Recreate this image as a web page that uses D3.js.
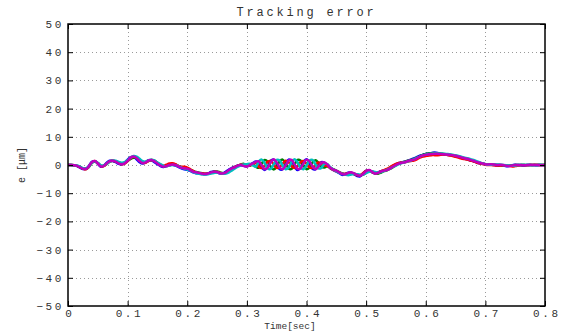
<!DOCTYPE html>
<html>
<head>
<meta charset="utf-8">
<script src="https://cdn.jsdelivr.net/npm/d3@7"></script>
<style>
  body { margin: 0; background: #fff; }
  svg { display: block; }
</style>
</head>
<body>
<div id="chart"></div>
<script>
// sample times [sec]
const time = [
  0,0.005,0.01,0.015,0.02,0.025,0.03,0.035,0.04,0.045,
  0.05,0.055,0.06,0.065,0.07,0.075,0.08,0.085,0.09,0.095,
  0.1,0.105,0.11,0.115,0.12,0.125,0.13,0.135,0.14,0.145,
  0.15,0.155,0.16,0.165,0.17,0.175,0.18,0.185,0.19,0.195,
  0.2,0.205,0.21,0.215,0.22,0.225,0.23,0.235,0.24,0.245,
  0.25,0.255,0.26,0.265,0.27,0.275,0.28,0.285,0.29,0.295,
  0.3,0.305,0.31,0.315,0.32,0.325,0.33,0.335,0.34,0.345,
  0.35,0.355,0.36,0.365,0.37,0.375,0.38,0.385,0.39,0.395,
  0.4,0.405,0.41,0.415,0.42,0.425,0.43,0.435,0.44,0.445,
  0.45,0.455,0.46,0.465,0.47,0.475,0.48,0.485,0.49,0.495,
  0.5,0.505,0.51,0.515,0.52,0.525,0.53,0.535,0.54,0.545,
  0.55,0.555,0.56,0.565,0.57,0.575,0.58,0.585,0.59,0.595,
  0.6,0.605,0.61,0.615,0.62,0.625,0.63,0.635,0.64,0.645,
  0.65,0.655,0.66,0.665,0.67,0.675,0.68,0.685,0.69,0.695,
  0.7,0.705,0.71,0.715,0.72,0.725,0.73,0.735,0.74,0.745,
  0.75,0.755,0.76,0.765,0.77,0.775,0.78,0.785,0.79,0.795,0.8
];

// tracking error [um], one run per colour
const errBlue = [
  0,0,-0.1,-0.4,-0.9,-1.4,-1.3,-0.3,1.1,1.3,
  0.4,-0.6,-0.2,0.8,1.5,1.4,1.0,0.4,0.2,0.8,
  1.9,2.8,2.9,2.0,1.0,0.5,0.9,1.7,1.7,1.0,
  0.3,-0.4,-0.7,-0.3,0.1,0.1,-0.2,-0.7,-1.2,-1.5,
  -1.7,-2.1,-2.6,-2.9,-3.0,-3.2,-3.3,-3.0,-2.5,-2.3,
  -2.6,-3.0,-2.9,-2.3,-1.6,-1.0,-0.6,-0.2,-0.1,-0.3,
  -0.4,0.1,0.7,1.2,0.8,-0.9,-1.8,-0.5,1.5,1.9,
  0.3,-1.5,-1.5,0.3,1.9,1.4,-0.5,-1.8,-0.9,1.1,
  2.0,0.7,-1.3,-1.5,-0.1,1.0,0.8,0.0,-1.2,-1.8,
  -2.3,-2.9,-3.5,-3.2,-2.7,-2.8,-3.3,-3.9,-4.0,-3.0,
  -2.0,-2.0,-2.6,-3.0,-2.6,-2.2,-1.9,-1.6,-1.0,-0.3,
  0.3,0.7,1.0,1.2,1.5,1.9,2.3,2.8,3.3,3.6,
  3.9,4.1,4.3,4.4,4.3,4.0,3.8,3.6,3.5,3.4,
  3.1,2.8,2.5,2.2,2.0,1.6,1.3,0.9,0.6,0.4,
  0.2,0.1,0.1,0.0,-0.2,-0.1,-0.2,-0.4,-0.3,-0.1,
  0.1,0.0,-0.1,-0.2,0.0,0.1,0.0,-0.1,0.0,0.0,0.0
];
const errGreen = [
  0,0,-0.1,-0.3,-0.7,-1.2,-1.4,-0.7,0.7,1.2,
  0.7,-0.2,-0.3,0.4,1.2,1.5,1.3,0.9,0.5,0.7,
  1.4,2.2,2.6,2.5,1.7,1.0,1.0,1.5,1.8,1.5,
  0.8,0.1,-0.4,-0.4,-0.1,0.2,0.1,-0.3,-0.8,-1.1,
  -1.4,-1.7,-2.1,-2.5,-2.7,-2.9,-3.1,-3.0,-2.7,-2.4,
  -2.3,-2.6,-2.9,-2.8,-2.2,-1.5,-0.9,-0.3,0.2,0.4,
  0.0,-0.3,0.1,-0.6,-1.0,0.5,1.8,1.2,-0.6,-1.6,
  -0.6,1.3,1.9,0.6,-1.2,-1.4,0.2,1.8,1.6,-0.2,
  -1.5,-0.9,0.9,1.7,0.8,-0.6,-0.9,-0.4,-1.0,-1.5,
  -2.0,-2.5,-3.0,-3.3,-3.1,-2.9,-3.1,-3.4,-3.6,-3.4,
  -2.7,-2.1,-2.3,-2.9,-3.1,-2.7,-2.2,-1.9,-1.4,-0.8,
  -0.1,0.5,0.9,1.2,1.5,1.8,2.1,2.6,3.1,3.6,
  3.9,4.1,4.2,4.2,4.1,4.0,3.9,3.8,3.7,3.5,
  3.3,3.0,2.7,2.4,2.1,1.8,1.5,1.1,0.8,0.5,
  0.3,0.2,0.2,0.1,0.0,0.0,-0.1,-0.2,-0.3,-0.2,
  0.0,0.0,0.0,0.0,0.0,0.0,0.0,0.0,0.0,0.0,0.0
];
const errRed = [
  0,0,-0.1,-0.3,-0.8,-1.3,-1.5,-0.6,0.9,1.4,
  0.6,-0.4,-0.4,0.5,1.3,1.5,1.3,0.7,0.3,0.5,
  1.4,2.4,2.9,2.6,1.6,0.8,0.8,1.4,1.8,1.5,
  0.7,0.0,-0.3,0.1,0.5,0.6,0.3,-0.3,-0.6,-0.6,
  -0.9,-1.5,-2.2,-2.7,-2.9,-3.0,-3.1,-3.1,-2.8,-2.5,
  -2.5,-2.8,-3.0,-2.7,-2.0,-1.3,-0.7,-0.2,0.1,0.1,
  -0.3,-0.1,0.4,0.8,-0.6,-1.1,-0.1,1.2,1.4,0.2,
  -1.0,-0.8,0.5,1.5,1.0,-0.4,-1.1,-0.4,1.0,1.4,
  0.5,-0.8,-1.0,0.0,0.9,0.6,-0.2,-0.4,-1.1,-1.7,
  -2.2,-2.7,-3.0,-3.1,-2.9,-2.8,-3.2,-3.6,-3.6,-2.9,
  -2.1,-1.9,-2.5,-2.9,-2.7,-2.2,-1.8,-1.4,-0.8,-0.1,
  0.4,0.7,0.9,1.0,1.2,1.4,1.6,2.0,2.6,3.0,
  3.2,3.4,3.5,3.5,3.5,3.6,3.7,3.6,3.4,3.2,
  2.9,2.6,2.3,2.1,1.9,1.6,1.3,0.9,0.6,0.3,
  0.1,0.0,0.0,-0.1,-0.2,-0.2,-0.1,-0.1,-0.3,-0.5,
  -0.4,-0.2,0.0,0.0,-0.1,0.0,0.0,0.1,0.0,0.0,0.0
];
const errCyan = [
  0,0,-0.1,-0.2,-0.6,-1.1,-1.3,-0.6,0.8,1.3,
  0.8,-0.1,-0.2,0.5,1.2,1.6,1.5,1.1,0.8,1.0,
  1.8,2.6,3.2,3.0,2.2,1.4,1.2,1.6,1.9,1.6,
  0.9,0.3,-0.2,-0.4,-0.2,0.0,-0.1,-0.4,-0.9,-1.3,
  -1.6,-2.0,-2.5,-2.9,-3.1,-3.3,-3.4,-3.3,-3.0,-2.8,
  -2.7,-2.9,-3.1,-3.0,-2.6,-1.9,-1.2,-0.6,-0.1,0.2,
  0.3,0.4,-0.1,-0.6,1.3,1.9,0.6,-1.2,-1.4,0.2,
  1.8,1.6,-0.2,-1.5,-0.9,1.0,2.0,1.0,-0.9,-1.5,
  -0.2,1.6,1.8,0.2,-1.2,-1.0,0.4,0.3,-0.8,-1.6,
  -2.2,-2.8,-3.1,-3.4,-3.6,-3.4,-3.2,-3.3,-3.5,-3.4,
  -2.9,-2.4,-2.2,-2.5,-2.7,-2.5,-2.1,-1.7,-1.2,-0.7,
  -0.2,0.3,0.7,1.0,1.3,1.6,2.0,2.5,3.0,3.4,
  3.7,3.9,4.0,4.1,4.1,4.0,4.0,3.9,3.8,3.6,
  3.4,3.2,2.9,2.6,2.4,2.1,1.8,1.4,1.0,0.6,
  0.3,0.1,0.1,0.2,0.2,0.1,0.0,-0.1,-0.2,-0.3,
  -0.2,0.0,0.1,0.1,0.0,-0.1,-0.1,0.0,0.1,0.0,0.0
];
const errMagenta = [
  0,0,-0.1,-0.3,-0.8,-1.3,-1.4,-0.5,1.0,1.4,
  0.6,-0.5,-0.3,0.6,1.4,1.5,1.2,0.6,0.3,0.6,
  1.5,2.6,3.0,2.5,1.4,0.7,0.9,1.6,1.8,1.3,
  0.5,-0.2,-0.6,-0.4,0.0,0.2,0.0,-0.5,-1.0,-1.2,
  -1.3,-1.8,-2.4,-2.6,-2.8,-3.1,-3.2,-3.0,-2.6,-2.4,
  -2.5,-2.9,-3.0,-2.6,-1.8,-1.2,-0.8,-0.2,0.0,-0.4,
  -0.6,0.0,0.6,1.1,1.3,-0.2,-1.5,-0.9,1.0,2.0,
  1.0,-0.9,-1.5,-0.2,1.6,1.8,0.2,-1.4,-1.2,0.6,
  1.9,1.3,-0.5,-1.5,-0.6,0.8,0.9,0.2,-1.0,-1.6,
  -2.0,-2.6,-3.2,-3.3,-2.8,-2.6,-3.0,-3.5,-3.8,-3.2,
  -2.2,-1.8,-2.4,-3.0,-2.8,-2.3,-2.0,-1.8,-1.3,-0.6,
  0.0,0.5,0.8,1.0,1.4,1.7,1.9,2.4,3.0,3.4,
  3.6,3.8,3.9,4.0,4.0,3.9,3.8,3.7,3.6,3.5,
  3.3,3.0,2.7,2.4,2.2,1.8,1.5,1.1,0.8,0.5,
  0.3,0.2,0.3,0.2,0.0,0.1,0.0,-0.3,-0.4,-0.2,
  0.0,0.0,0.0,-0.1,0.0,0.0,0.0,0.0,0.0,-0.1,0.0
];

const seriesList = [errBlue, errGreen, errRed, errCyan, errMagenta];
const seriesColors = ["#0000ff", "#008000", "#ff0000", "#00bfbf", "#bf00bf"];

const xTicks = [0, 0.1, 0.2, 0.3, 0.4, 0.5, 0.6, 0.7, 0.8];
const yTicks = [-50, -40, -30, -20, -10, 0, 10, 20, 30, 40, 50];

const width = 567;
const height = 331;
const margin = { top: 24, right: 22, bottom: 25, left: 68 };
const mono = "'Liberation Mono', 'DejaVu Sans Mono', monospace";

const svg = d3.select("#chart").append("svg")
    .attr("width", width)
    .attr("height", height)
    .style("background", "#fff");

const x = d3.scaleLinear().domain([0, 0.8]).range([margin.left, width - margin.right]);
const y = d3.scaleLinear().domain([-50, 50]).range([height - margin.bottom, margin.top]);

// dotted grid
const grid = svg.append("g")
    .attr("stroke", "#9a9a9a")
    .attr("stroke-width", 1)
    .attr("stroke-dasharray", "1,3");

grid.selectAll(".gx")
    .data(xTicks.slice(1, -1))
    .join("line")
    .attr("x1", d => Math.round(x(d)) + 0.5)
    .attr("x2", d => Math.round(x(d)) + 0.5)
    .attr("y1", y(50))
    .attr("y2", y(-50));

grid.selectAll(".gy")
    .data(yTicks.slice(1, -1))
    .join("line")
    .attr("y1", d => Math.round(y(d)) + 0.5)
    .attr("y2", d => Math.round(y(d)) + 0.5)
    .attr("x1", x(0))
    .attr("x2", x(0.8));

// the runs
const line = d3.line()
    .x((d, i) => x(time[i]))
    .y(d => y(d))
    .curve(d3.curveCatmullRom);

svg.append("g")
    .selectAll("path")
    .data(seriesList)
    .join("path")
    .attr("fill", "none")
    .attr("stroke", (d, i) => seriesColors[i])
    .attr("stroke-width", 2.5)
    .attr("stroke-linejoin", "round")
    .attr("d", line);

// axes with inward ticks
const styleAxis = g => {
    g.select(".domain").remove();
    g.selectAll(".tick line").attr("stroke", "#000");
    g.selectAll(".tick text")
        .attr("fill", "#333")
        .style("font-family", mono)
        .style("font-size", "11px")
        .style("letter-spacing", "2.6px");
};

svg.append("g")
    .attr("transform", `translate(0,${y(-50)})`)
    .call(d3.axisBottom(x).tickValues(xTicks).tickSize(-5).tickPadding(3).tickFormat(d3.format("")))
    .call(styleAxis)
    .call(g => g.selectAll(".tick text").attr("dx", "1.3px"));

svg.append("g")
    .attr("transform", `translate(0,${y(50)})`)
    .call(d3.axisTop(x).tickValues(xTicks).tickSize(-5).tickFormat(""))
    .call(styleAxis);

svg.append("g")
    .attr("transform", `translate(${x(0)},0)`)
    .call(d3.axisLeft(y).tickValues(yTicks).tickSize(-5).tickPadding(4).tickFormat(d => d < 0 ? "\u2212" + Math.abs(d) : d))
    .call(styleAxis);

svg.append("g")
    .attr("transform", `translate(${x(0.8)},0)`)
    .call(d3.axisRight(y).tickValues(yTicks).tickSize(-5).tickFormat(""))
    .call(styleAxis);

// frame
svg.append("rect")
    .attr("x", x(0))
    .attr("y", y(50))
    .attr("width", x(0.8) - x(0))
    .attr("height", y(-50) - y(50))
    .attr("fill", "none")
    .attr("stroke", "#000")
    .attr("stroke-width", 1.5);

// title and labels
svg.append("text")
    .attr("x", (x(0) + x(0.8)) / 2)
    .attr("y", 16)
    .attr("text-anchor", "middle")
    .style("font-family", mono)
    .style("font-size", "12px")
    .style("letter-spacing", "2.8px")
    .attr("fill", "#333")
    .text("Tracking error");

svg.append("text")
    .attr("x", 290)
    .attr("y", 328.5)
    .attr("text-anchor", "middle")
    .style("font-family", mono)
    .style("font-size", "9.5px")
    .attr("fill", "#333")
    .text("Time[sec]");

svg.append("text")
    .attr("transform", `translate(25,${y(0)}) rotate(-90)`)
    .attr("text-anchor", "middle")
    .style("font-family", mono)
    .style("font-size", "10px")
    .attr("fill", "#333")
    .text("e [\u03bcm]");
</script>
</body>
</html>
